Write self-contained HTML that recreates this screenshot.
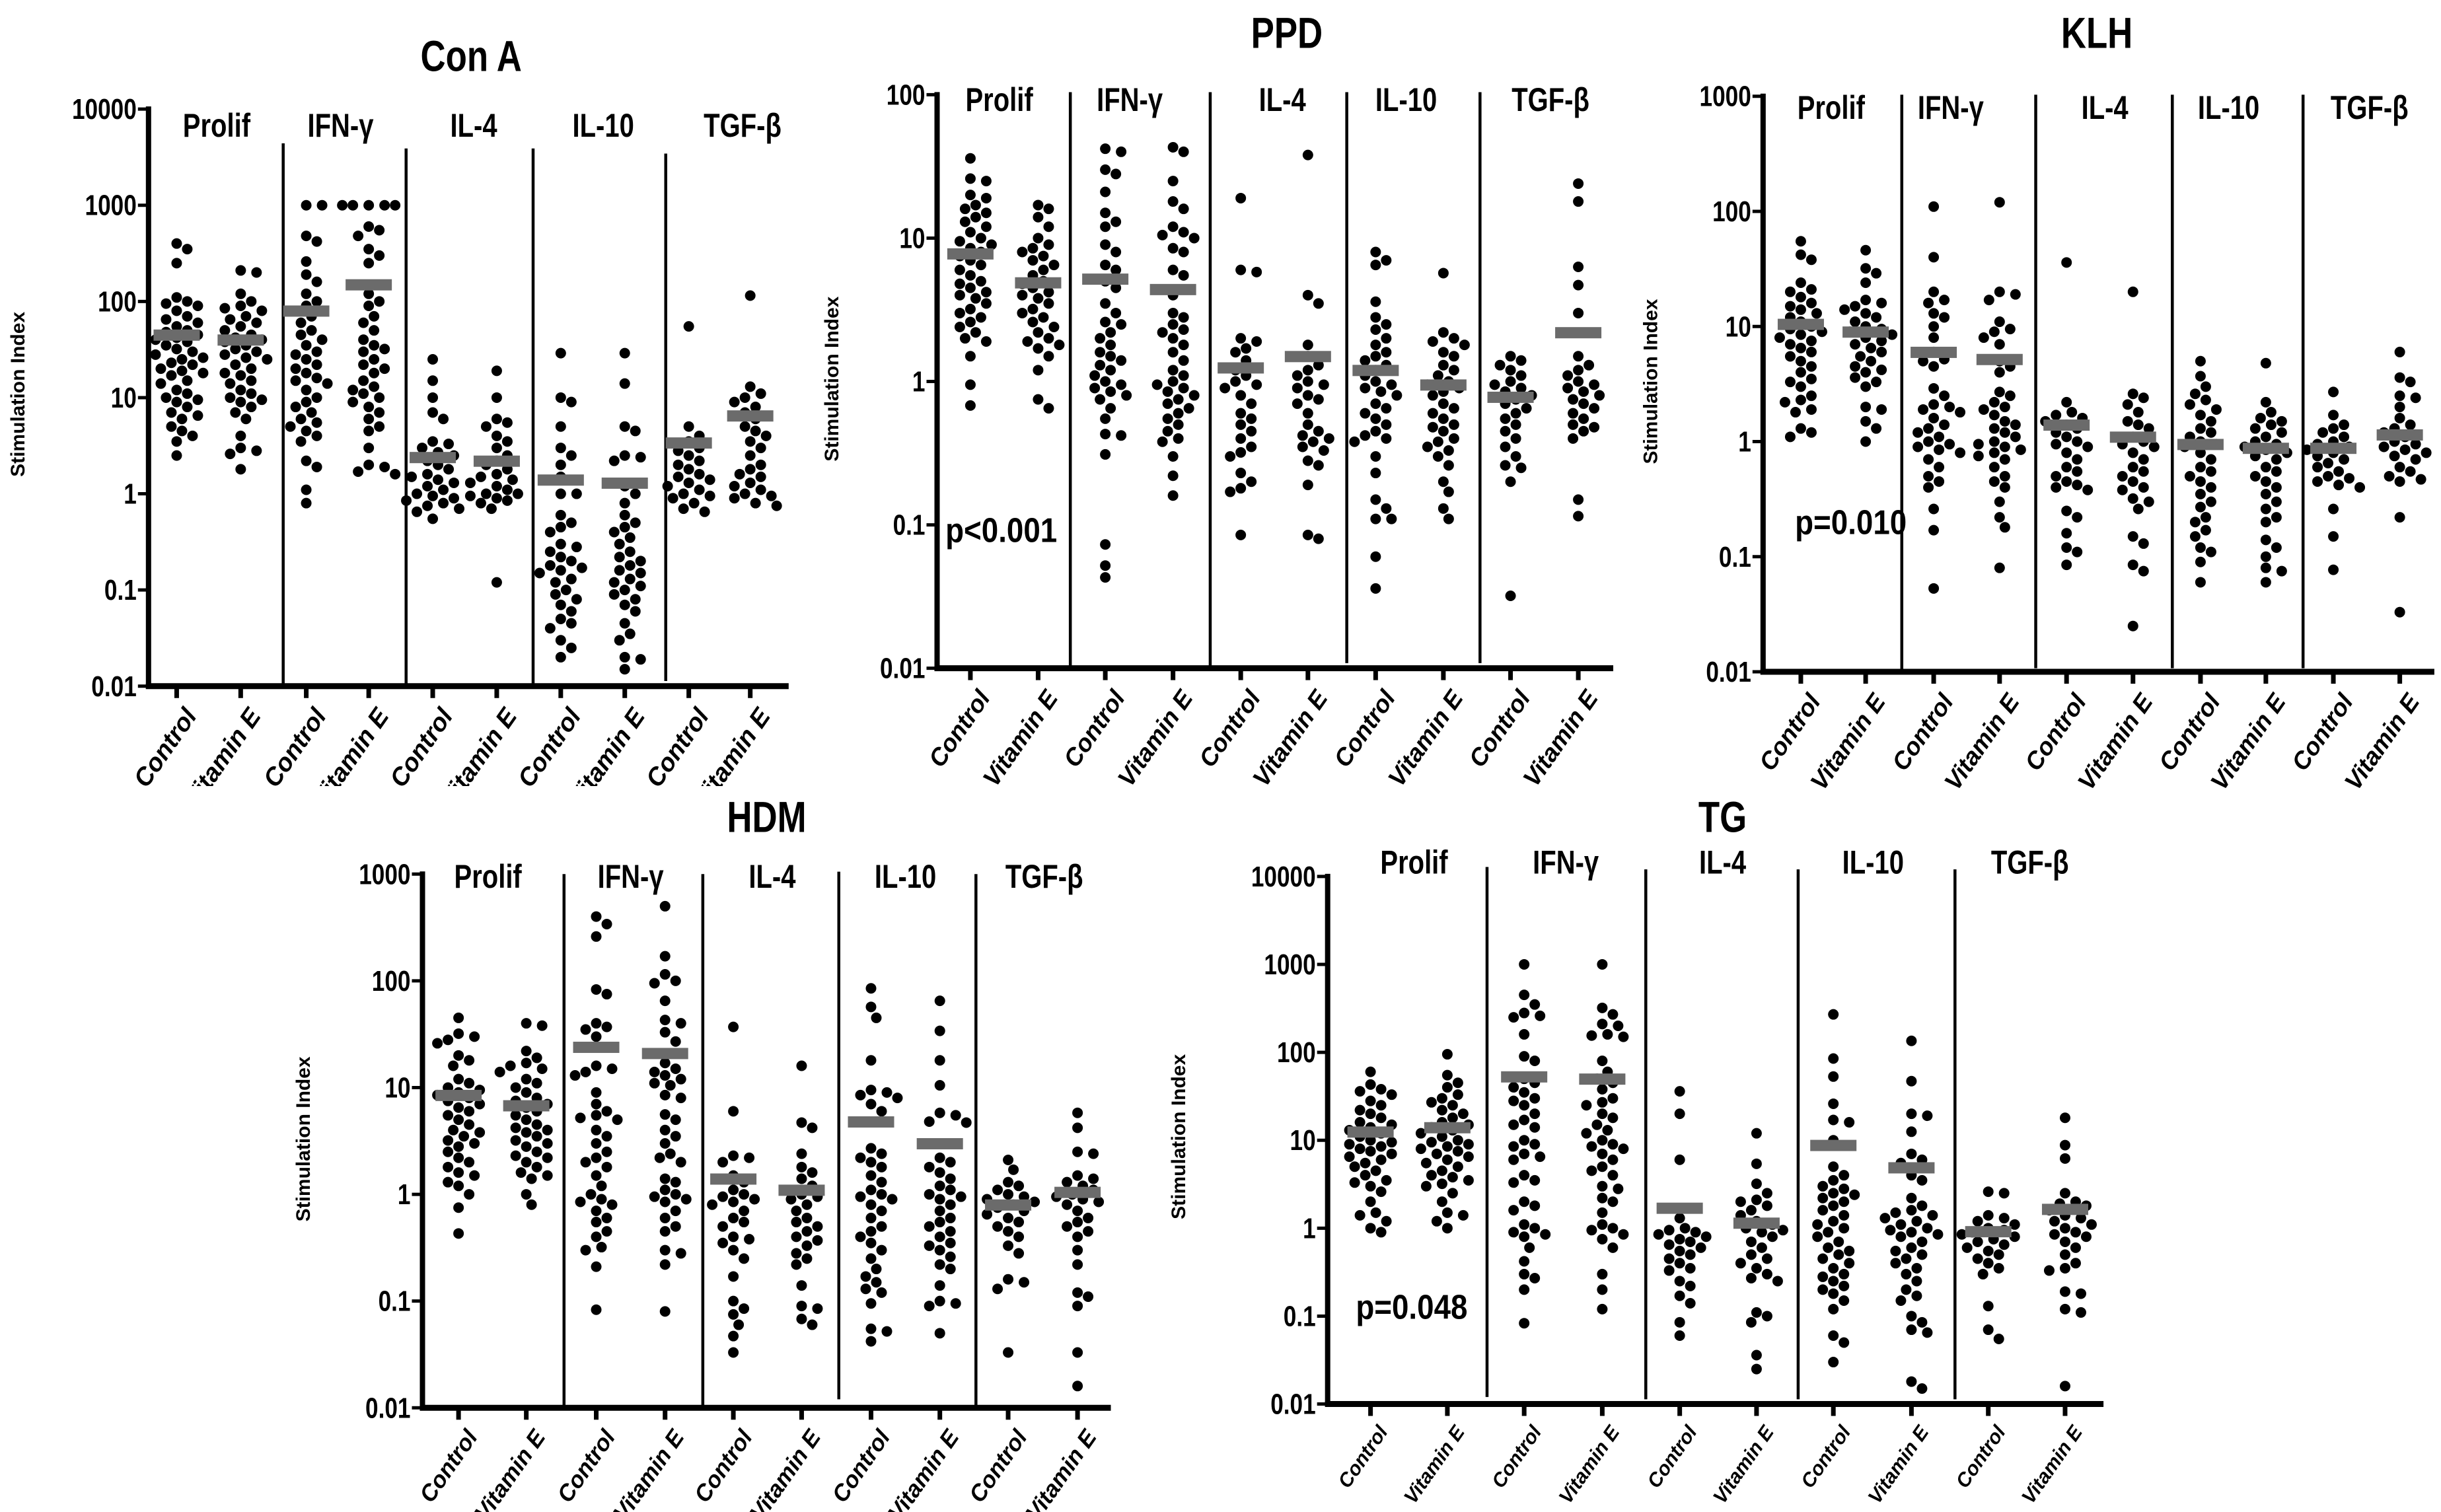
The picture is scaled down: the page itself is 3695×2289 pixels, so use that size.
<!DOCTYPE html>
<html><head><meta charset="utf-8">
<style>
html,body{margin:0;padding:0;background:#fff;}
svg{display:block;}
.nar{font-family:"Liberation Sans Narrow","Liberation Sans",sans-serif;font-weight:bold;}
.reg{font-family:"Liberation Sans",sans-serif;font-weight:bold;}
</style></head>
<body>
<svg id="fig" xmlns="http://www.w3.org/2000/svg" width="3695" height="2289" viewBox="0 0 3695 2289"></svg>
<script>
// ---------- data ----------
const groupLabels = ["Prolif","IFN-\u03b3","IL-4","IL-10","TGF-\u03b2"];
const armLabels = ["Control","Vitamin E"];

const conATicks = ["10000","1000","100","10","1","0.1","0.01"];
const conAMeans = [45,40,80,150,2.4,2.2,1.4,1.3,3.4,6.5];
const conA_prolif_c = [400,350,250,110,100,95,90,80,70,65,60,55,50,48,45,42,40,38,35,32,30,28,26,25,23,22,20,19,18,17,15,14,12,11,10,9.5,9,8,7,6.5,6,5,4.5,4,3.5,2.5];
const conA_prolif_v = [210,200,120,100,90,85,80,70,65,60,55,50,45,42,40,38,35,32,30,28,26,25,22,20,18,17,15,14,12,11,10,9.5,9,8,7,6,4,3,2.8,2.6,1.8];
const conA_ifn_c = [1000,1000,480,420,260,190,160,120,100,90,80,70,60,50,45,40,35,30,28,25,22,20,18,16,15,14,12,10,9,8,7,6,5.5,5,4.5,4,3.5,2.2,1.9,1.1,0.8];
const conA_ifn_v = [1000,1000,1000,1000,1000,600,550,480,350,300,250,120,100,90,70,60,50,40,35,32,30,25,22,20,18,15,13,12,11,10,9,8,7,6,5,4.5,3,2,1.9,1.7,1.6];
const conA_il4_c = [25,15,10,7,6,3.5,3.3,3,2.7,2.5,2.2,2,1.8,1.6,1.5,1.4,1.3,1.2,1.1,1,0.95,0.9,0.85,0.8,0.75,0.7,0.65,0.55];
const conA_il4_v = [19,10,6,5.5,5,4,3.5,3,2.5,2.2,2,1.8,1.6,1.5,1.4,1.3,1.2,1.1,1,1,0.95,0.9,0.85,0.8,0.7,0.12];
const conA_il10_c = [29,10,9,5,3,2.5,2,1.5,1,1,0.6,0.5,0.45,0.4,0.3,0.28,0.25,0.22,0.2,0.18,0.17,0.16,0.15,0.13,0.12,0.1,0.09,0.08,0.07,0.06,0.05,0.045,0.04,0.03,0.025,0.02];
const conA_il10_v = [29,14,5,4.5,2.5,2.4,2.2,1.2,1,0.8,0.6,0.5,0.45,0.4,0.35,0.3,0.25,0.22,0.2,0.18,0.16,0.15,0.13,0.12,0.11,0.1,0.09,0.08,0.07,0.06,0.045,0.035,0.03,0.02,0.019,0.015];
const conA_tgf_c = [55,5,4,3.5,3,2.8,2.5,2.2,2,1.8,1.6,1.5,1.4,1.3,1.2,1.1,1,0.95,0.9,0.8,0.7,0.65];
const conA_tgf_v = [115,13,11,10,9,8,7,6,5,4.5,4,3.5,3,2.5,2,1.8,1.6,1.5,1.3,1.2,1.1,1,0.95,0.9,0.8,0.75];

const ppdTicks = ["100","10","1","0.1","0.01"];
const ppdMeans = [7.8,4.9,5.2,4.4,1.25,1.5,1.2,0.95,0.78,2.2];
const ppd_prolif_c = [36,26,25,20,19,17,16,15,14,13,12,11,10,9.5,9,8.5,8,7.5,7,6.5,6,5.5,5,4.8,4.5,4.2,4,3.8,3.5,3.2,3,2.8,2.6,2.4,2.2,2,1.9,1.5,0.95,0.68];
const ppd_prolif_v = [17,16,14,12,10,9,8.5,8,7.5,7,6.5,6,5.5,5,4.8,4.5,4.2,4,3.8,3.5,3.2,3,2.8,2.6,2.4,2.2,2,1.9,1.8,1.7,1.5,1.2,0.75,0.65];
const ppd_ifn_c = [42,40,30,28,21,15,13,12,9,8,6.5,6,5,4.5,3.5,3,2.6,2.5,2.2,2,1.8,1.6,1.5,1.4,1.3,1.2,1.1,1,0.95,0.9,0.85,0.8,0.75,0.65,0.55,0.43,0.42,0.31,0.073,0.052,0.043];
const ppd_ifn_v = [43,40,25,18,16,12,11,10.5,10,8.5,8,6,5.5,4,3,2.8,2.5,2.3,2.2,2,1.8,1.6,1.4,1.2,1.1,1,0.95,0.9,0.85,0.8,0.75,0.7,0.65,0.6,0.55,0.5,0.45,0.4,0.38,0.3,0.22,0.16];
const ppd_il4_c = [19,6,5.8,2,1.9,1.7,1.6,1.4,1.2,1.1,1,0.95,0.9,0.8,0.7,0.6,0.55,0.5,0.45,0.4,0.35,0.32,0.3,0.23,0.2,0.18,0.17,0.085];
const ppd_il4_v = [38,4,3.5,1.8,1.5,1.3,1.2,1.1,1,0.95,0.9,0.8,0.75,0.7,0.6,0.5,0.45,0.42,0.4,0.38,0.35,0.33,0.28,0.26,0.19,0.085,0.08];
const ppd_il10_c = [8,7,6.5,3.6,2.8,2.5,2.3,2,1.8,1.6,1.5,1.4,1.3,1.2,1.1,1,0.95,0.9,0.85,0.8,0.7,0.65,0.6,0.55,0.5,0.45,0.42,0.4,0.38,0.3,0.23,0.15,0.13,0.11,0.11,0.06,0.036];
const ppd_il10_v = [5.7,2.2,2,1.9,1.8,1.6,1.5,1.3,1.2,1.1,1,0.95,0.9,0.85,0.8,0.7,0.65,0.6,0.55,0.5,0.48,0.45,0.4,0.38,0.35,0.33,0.3,0.26,0.2,0.17,0.13,0.11];
const ppd_tgf_c = [1.5,1.4,1.3,1.2,1.1,1,0.95,0.9,0.85,0.8,0.75,0.7,0.65,0.6,0.55,0.5,0.45,0.4,0.35,0.3,0.26,0.25,0.2,0.032];
const ppd_tgf_v = [24,18,6.3,4.7,3,1.5,1.3,1.2,1.1,1,0.95,0.9,0.85,0.8,0.75,0.7,0.65,0.6,0.55,0.5,0.48,0.45,0.4,0.15,0.115];

const klhTicks = ["1000","100","10","1","0.1","0.01"];
const klhMeans = [10.5,9,6,5.2,1.4,1.1,0.95,0.88,0.88,1.15];
const klh_prolif_c = [55,42,38,24,21,20,18,16,15,14,13,12,11,10,9.5,9,8.5,8,7.5,7,6.5,6,5.5,5,4.5,4,3.5,3.3,3,2.5,2.3,2.2,1.9,1.8,1.3,1.2,1.1];
const klh_prolif_v = [46,32,29,24,17,16,15,14,13,12,11,10,9.5,9,8.5,8,7.5,7,6.5,6,5.5,5,4.5,4.2,4,3.6,3.3,3,2,1.9,1.5,1.3,1];
const klh_ifn_c = [110,40,20,17,16,13,12,10,8,6,5.2,5,4.5,2.9,2.5,2.1,2,1.9,1.8,1.6,1.4,1.3,1.2,1.1,1,0.95,0.9,0.85,0.8,0.7,0.6,0.5,0.45,0.4,0.26,0.17,0.053];
const klh_ifn_v = [120,20,19,17,11,9.5,9,8,7,5,4.5,4,2.7,2.5,2.2,2,1.9,1.7,1.5,1.4,1.3,1.2,1.1,1,0.95,0.9,0.85,0.8,0.75,0.7,0.6,0.5,0.45,0.4,0.3,0.22,0.18,0.08];
const klh_il4_c = [36,2.2,1.8,1.7,1.6,1.5,1.4,1.3,1.2,1.1,1,0.95,0.9,0.8,0.7,0.6,0.55,0.5,0.45,0.42,0.4,0.38,0.25,0.22,0.16,0.12,0.11,0.085];
const klh_il4_v = [20,2.6,2.4,2.1,1.8,1.5,1.4,1.3,1.1,1,0.95,0.9,0.8,0.7,0.6,0.55,0.5,0.45,0.4,0.38,0.32,0.3,0.26,0.15,0.13,0.085,0.075,0.025];
const klh_il10_c = [5,3.7,3,2.6,2.3,2.1,1.9,1.7,1.5,1.3,1.2,1.1,1,0.95,0.9,0.8,0.7,0.6,0.55,0.5,0.45,0.4,0.35,0.3,0.27,0.22,0.2,0.17,0.15,0.12,0.11,0.09,0.06];
const klh_il10_v = [4.8,2.2,1.8,1.6,1.5,1.4,1.3,1.2,1.1,1,0.95,0.9,0.85,0.8,0.75,0.7,0.6,0.55,0.5,0.45,0.4,0.35,0.3,0.26,0.22,0.2,0.14,0.12,0.1,0.08,0.075,0.06];
const klh_tgf_c = [2.7,1.7,1.4,1.3,1.2,1.1,1,0.95,0.9,0.85,0.8,0.75,0.7,0.65,0.6,0.55,0.5,0.48,0.45,0.42,0.4,0.26,0.15,0.077];
const klh_tgf_v = [6,3.6,3.3,2.5,2.4,2,1.6,1.4,1.3,1.2,1.1,1,0.95,0.9,0.85,0.8,0.75,0.7,0.6,0.55,0.5,0.47,0.45,0.22,0.033];

const hdmTicks = ["1000","100","10","1","0.1","0.01"];
const hdmMeans = [8.5,6.8,24,21,1.4,1.1,4.8,3,0.8,1.05];
const hdm_prolif_c = [45,32,30,28,26,20,18,16,12,11,10,9.5,9,8.5,8,7.5,7,6.5,6,5.5,5,4.5,4,3.8,3.5,3.2,3,2.8,2.5,2.2,2,1.8,1.6,1.5,1.3,1.2,1,0.75,0.43];
const hdm_prolif_v = [40,38,22,19,17,16,15,14,12,11,10,9,8,7.5,7,6.5,6,5.5,5,4.5,4.2,4,3.8,3.5,3.2,3,2.8,2.5,2.3,2.2,2,1.8,1.6,1.5,1.4,1,0.8];
const hdm_ifn_c = [400,340,260,83,75,40,37,35,30,16,15,14,13,9,7,6,5.5,5.2,5,4,3.5,3,2.5,2.2,2,1.8,1.5,1.2,1,0.9,0.85,0.8,0.7,0.6,0.55,0.45,0.4,0.32,0.3,0.21,0.083];
const hdm_ifn_v = [500,170,115,100,95,65,43,40,33,27,17,15,14,13,12,11,10.5,8.5,8,5.6,5,4,3.5,3,2.4,2.2,2,1.4,1.3,1.1,1,0.95,0.9,0.85,0.7,0.6,0.5,0.45,0.3,0.28,0.22,0.08];
const hdm_il4_c = [37,6,2.3,2.2,2,1.5,1.3,1.1,1,0.95,0.9,0.85,0.8,0.7,0.6,0.55,0.5,0.4,0.38,0.35,0.3,0.25,0.17,0.1,0.085,0.075,0.06,0.047,0.033];
const hdm_il4_v = [16,4.7,4.2,2.4,1.8,1.6,1.4,1.2,1,0.95,0.9,0.8,0.7,0.6,0.55,0.5,0.45,0.4,0.37,0.33,0.28,0.25,0.22,0.14,0.09,0.085,0.068,0.06];
const hdm_il10_c = [85,57,45,18,9.5,9,8.5,8,7,6,2.7,2.4,2.2,2,1.8,1.5,1.3,1.1,1,0.95,0.9,0.8,0.7,0.6,0.5,0.45,0.4,0.35,0.3,0.25,0.2,0.17,0.15,0.13,0.12,0.095,0.055,0.052,0.042];
const hdm_il10_v = [65,34,18,10.5,5.8,5.5,4.8,4.7,2.2,2,1.8,1.6,1.4,1.2,1.1,1,0.95,0.9,0.8,0.7,0.6,0.55,0.5,0.45,0.4,0.35,0.33,0.3,0.26,0.22,0.2,0.14,0.1,0.095,0.09,0.05];
const hdm_tgf_c = [2.1,1.7,1.3,1.2,1.1,1,0.95,0.9,0.85,0.8,0.75,0.7,0.65,0.6,0.55,0.5,0.45,0.4,0.33,0.28,0.16,0.15,0.13,0.033];
const hdm_tgf_v = [5.8,4.2,2.5,2.4,1.5,1.4,1.3,1.2,1.1,1,0.95,0.9,0.85,0.8,0.7,0.6,0.55,0.5,0.45,0.4,0.3,0.22,0.12,0.11,0.09,0.033,0.016];

const tgTicks = ["10000","1000","100","10","1","0.1","0.01"];
const tgMeans = [12.5,14,53,50,1.7,1.15,8.8,4.9,0.92,1.65];
const tg_prolif_c = [60,43,38,36,33,28,25,22,20,18,16,15,14,13,12,11,10,9.5,9,8.5,8,7.5,7,6.5,6,5.5,5,4.5,4,3.5,3.3,3,2.6,2,1.5,1.4,1.2,1,0.9];
const tg_prolif_v = [95,55,45,40,33,30,27,25,22,20,18,16,15,14,13,12,11,10,9.5,9,8.5,8,7.5,7,6.5,6,5.5,5,4.5,4,3.8,3.5,3.2,3,2.5,2,1.5,1.4,1.2,1];
const tg_ifn_c = [1000,450,350,280,260,250,160,90,80,50,45,40,35,30,28,25,20,17,15,14,10,9,8.5,7,6.5,6,4,3.5,3.3,2,1.8,1.6,1.1,1,0.9,0.85,0.8,0.6,0.42,0.3,0.27,0.2,0.083];
const tg_ifn_v = [1000,320,270,210,200,160,155,150,80,60,50,45,38,30,27,25,20,18,15,13,12,10,9,8.5,8,7,6,5,4.5,4,3,2.8,2.2,2,1.5,1.1,1,0.95,0.85,0.75,0.6,0.3,0.2,0.12];
const tg_il4_c = [36,20,6,1.3,1,0.95,0.9,0.85,0.8,0.75,0.7,0.65,0.6,0.55,0.5,0.45,0.4,0.35,0.33,0.25,0.22,0.17,0.14,0.085,0.06];
const tg_il4_v = [12,5.4,3.2,2.5,2.1,2,1.8,1.6,1.4,1.2,1.1,1,0.95,0.9,0.8,0.7,0.6,0.5,0.45,0.4,0.35,0.3,0.27,0.25,0.11,0.1,0.085,0.036,0.025];
const tg_il10_c = [270,85,53,26,17,16,10,5,4,3.5,3,2.8,2.5,2.4,2.2,2,1.8,1.6,1.4,1.2,1.1,1,0.9,0.8,0.7,0.6,0.55,0.5,0.45,0.4,0.35,0.3,0.28,0.25,0.22,0.2,0.18,0.15,0.12,0.06,0.05,0.03];
const tg_il10_v = [135,47,20,19,12.5,7,6,5.5,4,3.5,2.2,1.8,1.6,1.5,1.4,1.3,1.2,1.1,1,0.95,0.9,0.85,0.8,0.7,0.6,0.55,0.5,0.45,0.4,0.35,0.3,0.25,0.2,0.17,0.15,0.1,0.085,0.07,0.065,0.018,0.015];
const tg_tgf_c = [2.6,2.5,1.4,1.3,1.2,1.1,1,0.95,0.9,0.85,0.8,0.75,0.7,0.65,0.6,0.55,0.5,0.45,0.4,0.35,0.3,0.13,0.07,0.055];
const tg_tgf_v = [18,8.8,6.2,2.5,2,1.9,1.8,1.6,1.4,1.3,1.2,1.1,1,0.9,0.85,0.8,0.7,0.6,0.5,0.4,0.35,0.33,0.19,0.18,0.12,0.11,0.016];

// ---------- layout ----------
const panels = [
 {id:"con-a",name:"Con A",ticks:conATicks,top:10000,means:conAMeans,
  series:[conA_prolif_c,conA_prolif_v,conA_ifn_c,conA_ifn_v,conA_il4_c,conA_il4_v,conA_il10_c,conA_il10_v,conA_tgf_c,conA_tgf_v],
  ox:0,oy:0,sx:1.29,sy:1.29,axisX:290,yTop:213,yBot:1340,div:[553,793,1041,1300],divTop:[280,290,290,300],divBot:[1340,1340,1335,1330],
  end:1540,cols:[345,470,598,720,845,970,1095,1220,1345,1465],tpos:[920,110],gy:245,gx:[423,665,925,1178,1450],yt:[35,770],
  p:null,xfs:38,clip:1190},
 {id:"ppd",name:"PPD",ticks:ppdTicks,top:100,means:ppdMeans,
  series:[ppd_prolif_c,ppd_prolif_v,ppd_ifn_c,ppd_ifn_v,ppd_il4_c,ppd_il4_v,ppd_il10_c,ppd_il10_v,ppd_tgf_c,ppd_tgf_v],
  ox:1200,oy:0,sx:1.19,sy:1.29,axisX:260,yTop:185,yBot:1305,div:[500,752,998,1238],divTop:[180,180,180,180],divBot:[1300,1300,1295,1295],
  end:1478,cols:[320,442,563,685,807,928,1050,1172,1293,1415],tpos:[890,65],gy:195,gx:[372,607,882,1105,1365],yt:[70,740],
  p:["p<0.001",275,1035],xfs:37},
 {id:"klh",name:"KLH",ticks:klhTicks,top:1000,means:klhMeans,
  series:[klh_prolif_c,klh_prolif_v,klh_ifn_c,klh_ifn_v,klh_il4_c,klh_il4_v,klh_il10_c,klh_il10_v,klh_tgf_c,klh_tgf_v],
  ox:2450,oy:0,sx:1.243,sy:1.29,axisX:272,yTop:188,yBot:1312,div:[533,785,1042,1288],divTop:[185,185,185,185],divBot:[1310,1305,1305,1305],
  end:1535,cols:[343,465,593,717,843,968,1095,1218,1345,1470],tpos:[900,65],gy:210,gx:[400,625,915,1148,1413],yt:[60,745],
  p:["p=0.010",332,1020],xfs:37},
 {id:"hdm",name:"HDM",ticks:hdmTicks,top:1000,means:hdmMeans,
  series:[hdm_prolif_c,hdm_prolif_v,hdm_ifn_c,hdm_ifn_v,hdm_il4_c,hdm_il4_v,hdm_il10_c,hdm_il10_v,hdm_tgf_c,hdm_tgf_v],
  ox:400,oy:1180,sx:1.19,sy:1.396,axisX:285,yTop:200,yBot:1328,div:[540,790,1035,1282],divTop:[200,200,195,200],divBot:[1328,1328,1310,1328],
  end:1525,cols:[350,472,598,722,845,968,1093,1217,1340,1465],tpos:[905,80],gy:205,gx:[403,660,915,1155,1405],yt:[70,760],
  p:null,xfs:35},
 {id:"tg",name:"TG",ticks:tgTicks,top:10000,means:tgMeans,
  series:[tg_prolif_c,tg_prolif_v,tg_ifn_c,tg_ifn_v,tg_il4_c,tg_il4_v,tg_il10_c,tg_il10_v,tg_tgf_c,tg_tgf_v],
  ox:1750,oy:1180,sx:1.032,sy:1.396,axisX:268,yTop:205,yBot:1320,div:[517,765,1003,1248],divTop:[185,190,190,190],divBot:[1305,1310,1310,1310],
  end:1480,cols:[335,455,575,697,818,938,1058,1180,1300,1420],tpos:[885,80],gy:175,gx:[403,640,885,1120,1365],yt:[35,755],
  p:["p=0.048",312,1115],xfs:30}
];

const NS="http://www.w3.org/2000/svg";
const svg=document.getElementById("fig");
function mk(tag,attrs,parent){const e=document.createElementNS(NS,tag);for(const k in attrs)e.setAttribute(k,attrs[k]);(parent||svg).appendChild(e);return e;}
const NX=0.8;

const R=8, STEP=8, MAXK=10;
panels.forEach(P=>{
  const X=v=>P.ox+v/P.sx, Y=v=>P.oy+v/P.sy;
  const ax=X(P.axisX), yT=Y(P.yTop), yB=Y(P.yBot);
  const dec=P.ticks.length-1, lmax=Math.log10(P.top);
  const yScale=v=>yT+(lmax-Math.log10(v))*(yB-yT)/dec;
  const g=mk("g",{});
  
  

  const t=mk("text",{transform:`translate(${X(P.tpos[0])},${Y(P.tpos[1])+22}) scale(${NX},1)`,"text-anchor":"middle","font-size":66,class:"nar"},g);
  t.textContent=P.name;
  
  

  const yt=mk("text",{transform:`translate(${X(P.yt[0])+10},${Y(P.yt[1])}) rotate(-90)`,"text-anchor":"middle","font-size":30,class:"reg"},g);
  yt.textContent="Stimulation  Index";
  
  

  const yl=mk("line",{x1:ax,y1:yT-4,x2:ax,y2:yB+4,stroke:"#000","stroke-width":8},g);
  
  
  P.ticks.forEach((lab,i)=>{
    const yy=yScale(parseFloat(lab));
    mk("line",{x1:ax-16,y1:yy,x2:ax,y2:yy,stroke:"#000","stroke-width":5},g);
    const tl=mk("text",{transform:`translate(${ax-18},${yy+15}) scale(${NX},1)`,"text-anchor":"end","font-size":44,class:"nar"},g);
    tl.textContent=lab;
    
    
  });
  const xl=mk("line",{x1:ax-4,y1:yB,x2:X(P.end),y2:yB,stroke:"#000","stroke-width":9},g);
  
  
  P.div.forEach((d,i)=>{
    const dl=mk("line",{x1:X(d),y1:Y(P.divTop[i]),x2:X(d),y2:Y(P.divBot[i]),stroke:"#000","stroke-width":4.5},g);
    
    
  });
  groupLabels.forEach((gl,i)=>{
    const e=mk("text",{transform:`translate(${X(P.gx[i])},${Y(P.gy)+17}) scale(${NX},1)`,"text-anchor":"middle","font-size":50,class:"nar"},g);
    e.textContent=gl;
    
    
  });
  if(P.p){
    const pe=mk("text",{transform:`translate(${X(P.p[1])},${Y(P.p[2])+18}) scale(0.88,1)`,"font-size":52,class:"nar"},g);
    pe.textContent=P.p[0];
    
    
  }
  let clipAttr={};
  if(P.clip){
    const cp=mk("clipPath",{id:"clip-"+P.id},g);
    mk("rect",{x:0,y:0,width:3695,height:P.clip},cp);
    clipAttr={"clip-path":"url(#clip-"+P.id+")"};
  }
  const xg=mk("g",clipAttr,g);
  P.series.forEach((vals,ci)=>{
    const cx=X(P.cols[ci]);
    mk("line",{x1:cx,y1:yB,x2:cx,y2:yB+18,stroke:"#000","stroke-width":7},g);
    const xt=mk("text",{transform:`translate(${cx+10},${yB+30}) rotate(-55)`,"text-anchor":"end","font-size":P.xfs,"font-style":"italic",dy:"0.7em",class:"reg"},xg);
    xt.textContent=armLabels[ci%2];
    
    
    const sorted=[...vals].sort((a,b)=>b-a);
    const placed=[];
    sorted.forEach(v=>{
      const yy=yScale(v);
      let best=cx,bestD=-1;
      for(let k=0;k<=MAXK;k++){
        const px=cx+(k===0?0:(k%2?1:-1)*Math.ceil(k/2)*STEP);
        let dmin=Infinity;
        placed.forEach(p=>{const d=Math.hypot(p[0]-px,p[1]-yy);if(d<dmin)dmin=d;});
        if(dmin>=2*R*1.05){best=px;bestD=Infinity;break;}
        if(dmin>bestD){bestD=dmin;best=px;}
      }
      placed.push([best,yy]);
      const c=mk("circle",{cx:best,cy:yy,r:R,fill:"#000"},g);
      
      
    });
    const my=yScale(P.means[ci]);
    const bw=70;
    const mb=mk("rect",{x:cx-bw/2,y:my-8,width:bw,height:17,fill:"#6b6b6b"},g);
    
    
  });
});
</script>
</body></html>
